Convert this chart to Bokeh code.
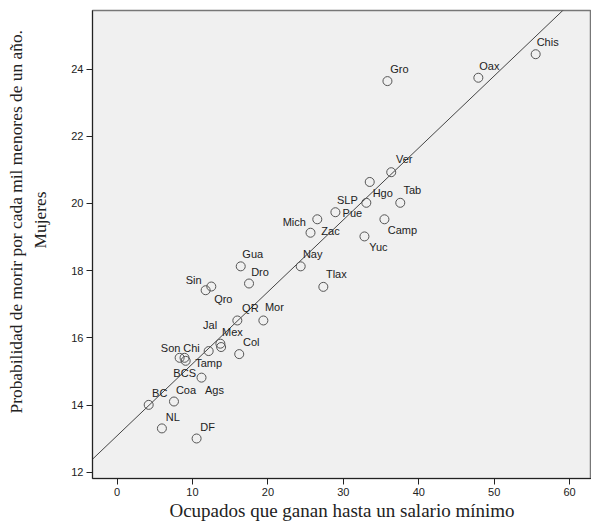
import numpy as np
from bokeh.plotting import figure
from bokeh.models import ColumnDataSource, FixedTicker, Title, Range1d
from bokeh.core.properties import value
from bokeh.embed import file_html
from bokeh.resources import INLINE

# ---- data ----
states = ["Chis", "Oax", "Gro", "Ver", "Hgo", "SLP", "Tab", "Pue", "Mich", "Camp",
          "Zac", "Yuc", "Gua", "Nay", "Dro", "Qro", "Sin", "Tlax", "QR", "Mor",
          "Mex", "Jal", "Tamp", "Col", "Son", "Chi", "BCS", "Ags", "BC", "Coa",
          "NL", "DF"]
ocupados = [55.5, 47.9, 35.85, 36.35, 33.5, 33.05, 37.55, 28.95, 26.55, 35.45,
            25.65, 32.8, 16.4, 24.35, 17.5, 12.5, 11.75, 27.35, 15.95, 19.4,
            13.7, 13.8, 12.15, 16.2, 8.3, 8.95, 9.1, 11.2, 4.2, 7.55,
            5.95, 10.55]
mortalidad = [24.44, 23.74, 23.64, 20.93, 20.64, 20.02, 20.02, 19.74, 19.53, 19.53,
              19.13, 19.02, 18.13, 18.13, 17.62, 17.53, 17.42, 17.52, 16.52, 16.52,
              15.83, 15.73, 15.61, 15.52, 15.41, 15.41, 15.32, 14.82, 14.01, 14.11,
              13.31, 13.01]
x_ticks = [0, 10, 20, 30, 40, 50, 60]
y_ticks = [12, 14, 16, 18, 20, 22, 24]

# label placement around each marker (screen pixels)
lab_dx = [12, 11, 12, 13, 13, -19, 12, 17, -23, 18,
          20, 14, 12, 12, 11, 12, -12, 13, 13, 11,
          12, -11, 0, 12, -9, 7, -1, 13, 11, 12,
          11, 11]
lab_dy = [-12, -12, -12, -13, 11, -3, -13, 1, 3, 11,
          -2, 11, -12, -12, -12, 12, -10, -13, -12, -13,
          -12, -22, 12, -12, -10, -10, 12, 12, -12, -12,
          -11, -11]

src = ColumnDataSource(dict(x=ocupados, y=mortalidad, name=states, dx=lab_dx, dy=lab_dy))

x0, x1 = -3.25, 62.9
y0, y1 = 11.82, 25.74

p = figure(width=591, height=530, output_backend="svg", toolbar_location=None,
           x_range=Range1d(x0, x1), y_range=Range1d(y0, y1),
           min_border_left=92, min_border_right=0, min_border_top=10, min_border_bottom=52)

p.background_fill_color = "#f0f0f0"
p.border_fill_color = "white"
p.outline_line_color = "#777777"
p.outline_line_width = 1.5
p.xgrid.visible = False
p.ygrid.visible = False

# regression line (least squares on the data)
b, a = np.polyfit(np.array(ocupados), np.array(mortalidad), 1)
p.line([x0, x1], [a + b * x0, a + b * x1], line_color="#444444", line_width=1)

p.scatter("x", "y", source=src, marker="circle", size=9, fill_color=None,
          line_color="#555555", line_width=1)

p.text("x", "y", text="name", source=src, x_offset="dx", y_offset="dy",
       text_font=value("Liberation Sans"), text_font_size="11px",
       text_align="center", text_baseline="middle", text_color="#222222")

for ax in (p.xaxis[0], p.yaxis[0]):
    ax.major_tick_out = 6
    ax.major_tick_in = 0
    ax.minor_tick_line_color = None
    ax.axis_line_color = "#222222"
    ax.major_tick_line_color = "#222222"
    ax.major_label_text_font = "Liberation Sans"
    ax.major_label_text_font_size = "11px"
    ax.major_label_text_color = "#222222"
    ax.major_label_standoff = 3

p.xaxis.ticker = FixedTicker(ticks=x_ticks)
p.yaxis.ticker = FixedTicker(ticks=y_ticks)

p.xaxis.axis_label = "Ocupados que ganan hasta un salario mínimo"
p.xaxis.axis_label_text_font = "Liberation Serif"
p.xaxis.axis_label_text_font_size = "19px"
p.xaxis.axis_label_text_font_style = "normal"
p.xaxis.axis_label_text_color = "#222222"
p.xaxis.axis_label_standoff = 1

# blank spacer between the tick labels and the axis title
spacer = Title(text=" ", standoff=0, text_font_size="12px")
p.add_layout(spacer, "left")
t2 = Title(text="Mujeres", align="left", offset=230, standoff=5,
           text_font="Liberation Serif", text_font_size="17.4px",
           text_font_style="normal", text_color="#222222")
p.add_layout(t2, "left")
t1 = Title(text="Probabilidad de morir por cada mil menores de un año.", align="left",
           offset=65, standoff=0, text_font="Liberation Serif", text_font_size="17.4px",
           text_font_style="normal", text_color="#222222")
p.add_layout(t1, "left")

open("out.html", "w").write(file_html(p, INLINE))
